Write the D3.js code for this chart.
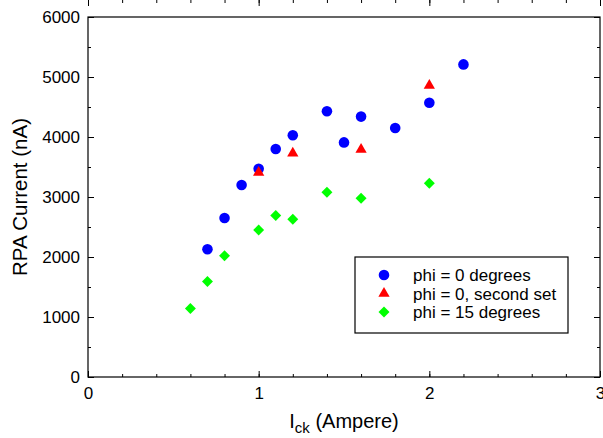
<!DOCTYPE html>
<html>
<head>
<meta charset="utf-8">
<script src="https://cdn.jsdelivr.net/npm/d3@7"></script>
<style>
  body { margin: 0; background: #fff; }
  svg { display: block; font-family: "Liberation Sans", Arial, sans-serif; }
</style>
</head>
<body>
<div id="chart"></div>
<script>
// data
var phi0X = [0.7, 0.8, 0.9, 1.0, 1.1, 1.2, 1.4, 1.5, 1.6, 1.8, 2.0, 2.2];
var phi0Y = [2130, 2650, 3200, 3470, 3800, 4030, 4430, 3910, 4340, 4150, 4570, 5210];
var phi0bX = [1.0, 1.2, 1.6, 2.0];
var phi0bY = [3410, 3730, 3790, 4860];
var phi15X = [0.6, 0.7, 0.8, 1.0, 1.1, 1.2, 1.4, 1.6, 2.0];
var phi15Y = [1140, 1590, 2020, 2450, 2690, 2630, 3080, 2980, 3230];
var xTicks = [0, 1, 2, 3];
var yTicks = [0, 1000, 2000, 3000, 4000, 5000, 6000];
var legendLabels = ["phi = 0 degrees", "phi = 0, second set", "phi = 15 degrees"];

var width = 603, height = 438;
var margin = {left: 88, right: 3, top: 17, bottom: 61};

var svg = d3.select("#chart").append("svg")
    .attr("width", width)
    .attr("height", height);

var x = d3.scaleLinear().domain([0, 3]).range([margin.left, width - margin.right]);
var y = d3.scaleLinear().domain([0, 6000]).range([height - margin.bottom, margin.top]);

var xMinor = d3.range(0, 3.0001, 0.2);
var yMinor = d3.range(0, 6001, 500);

function tickAxis(axisFn, scale, vals, size, labels) {
    var a = axisFn(scale).tickValues(vals).tickSize(size).tickSizeOuter(0);
    a.tickFormat(labels ? d3.format("d") : "");
    return a;
}

// minor and major ticks, pointing inward on all four sides
var bottom = "translate(0," + y(0) + ")", top = "translate(0," + y(6000) + ")";
var left = "translate(" + x(0) + ",0)", right = "translate(" + x(3) + ",0)";

svg.append("g").attr("transform", bottom).call(tickAxis(d3.axisBottom, x, xMinor, -3, false));
svg.append("g").attr("transform", bottom).attr("class", "xlab")
    .call(tickAxis(d3.axisBottom, x, xTicks, -6, true).tickPadding(10));
svg.append("g").attr("transform", top).call(tickAxis(d3.axisTop, x, xMinor, -3, false));
svg.append("g").attr("transform", top).call(tickAxis(d3.axisTop, x, xTicks, -6, false));

svg.append("g").attr("transform", left).call(tickAxis(d3.axisLeft, y, yMinor, -3, false));
svg.append("g").attr("transform", left).attr("class", "ylab")
    .call(tickAxis(d3.axisLeft, y, yTicks, -6, true).tickPadding(8));
svg.append("g").attr("transform", right).call(tickAxis(d3.axisRight, y, yMinor, -3, false));
svg.append("g").attr("transform", right).call(tickAxis(d3.axisRight, y, yTicks, -6, false));

svg.selectAll(".domain").remove();
svg.selectAll(".tick line").attr("stroke", "#000").attr("stroke-width", 1);
svg.selectAll(".xlab text, .ylab text")
    .attr("font-family", "Liberation Sans, Arial, sans-serif")
    .attr("font-size", 17)
    .attr("fill", "#000");

// frame
svg.append("rect")
    .attr("x", x(0)).attr("y", y(6000))
    .attr("width", x(3) - x(0)).attr("height", y(0) - y(6000))
    .attr("fill", "none").attr("stroke", "#000").attr("stroke-width", 1.2);

// axis titles
var xt = svg.append("text")
    .attr("x", (x(0) + x(3)) / 2).attr("y", 428)
    .attr("text-anchor", "middle")
    .attr("font-size", 20);
xt.append("tspan").text("I");
xt.append("tspan").attr("font-size", 15).attr("dy", 5).text("ck");
xt.append("tspan").attr("dy", -5).text(" (Ampere)");

svg.append("text")
    .attr("transform", "translate(27," + (y(3000)) + ") rotate(-90)")
    .attr("text-anchor", "middle")
    .attr("font-size", 20.5)
    .text("RPA Current (nA)");

var circle = d3.symbol().type(d3.symbolCircle).size(88);
var tri = d3.symbol().type(d3.symbolTriangle).size(55);
var diamond = d3.symbol().type(d3.symbolSquare).size(60);

function drawSeries(xs, ys, sym, color, rot) {
    svg.append("g").selectAll("path")
        .data(xs)
        .enter()
        .append("path")
        .attr("d", sym)
        .attr("fill", color)
        .attr("transform", function(d, i) {
            return "translate(" + x(d) + "," + y(ys[i]) + ")" + (rot ? " rotate(45)" : "");
        });
}

drawSeries(phi0X, phi0Y, circle, "#0000ff", false);
drawSeries(phi0bX, phi0bY, tri, "#ff0000", false);
drawSeries(phi15X, phi15Y, diamond, "#00ff00", true);

// legend
var lg = svg.append("g");
lg.append("rect")
    .attr("x", 355).attr("y", 257).attr("width", 213).attr("height", 76)
    .attr("fill", "#fff").attr("stroke", "#000").attr("stroke-width", 1.2);
var syms = [circle, tri, diamond], cols = ["#0000ff", "#ff0000", "#00ff00"];
legendLabels.forEach(function(label, i) {
    var ry = 275 + i * 18.5;
    lg.append("path").attr("d", syms[i]).attr("fill", cols[i])
        .attr("transform", "translate(384," + ry + ")" + (i == 2 ? " rotate(45)" : ""));
    lg.append("text").attr("x", 413).attr("y", ry + 6)
        .attr("font-size", 17).text(label);
});
</script>
</body>
</html>
